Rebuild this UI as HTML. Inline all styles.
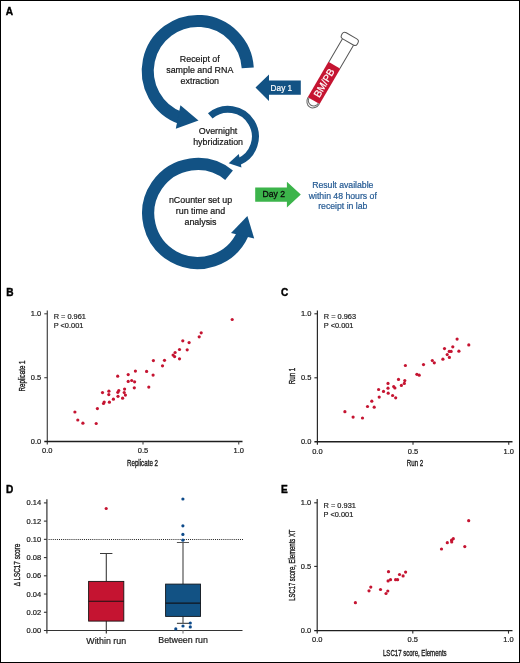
<!DOCTYPE html>
<html><head><meta charset="utf-8"><style>
html,body{margin:0;padding:0;background:#fff;}
svg{display:block;font-family:"Liberation Sans", sans-serif;will-change:transform;}
</style></head><body>
<svg width="520" height="663" viewBox="0 0 520 663">
<rect x="0" y="0" width="520" height="663" fill="#fff"/>
<rect x="0.5" y="0.5" width="519" height="662" fill="none" stroke="#000" stroke-width="1"/>
<path d="M247.75 67.77A50.05 50.05 0 1 0 180.68 118.03" fill="none" stroke="#125284" stroke-width="12.1"/>
<polygon points="180.4,105.3 198.5,120.5 175.8,128.8" fill="#125284"/>
<path d="M210.26 115.93A27.3 27.3 0 1 1 238.33 161.91" fill="none" stroke="#125284" stroke-width="7"/>
<polygon points="238.8,154.1 228.7,163.2 241.5,167.6" fill="#125284"/>
<path d="M229.05 175.19A49.5 49.5 0 1 0 242.92 233.63" fill="none" stroke="#125284" stroke-width="12.2"/>
<polygon points="231,233.1 247.4,216 254.2,238.5" fill="#125284"/>
<text x="199.8" y="62.2" font-size="8.9" fill="#151515" stroke="#151515" stroke-width="0.2" text-anchor="middle" >Receipt of</text>
<text x="199.8" y="73.0" font-size="8.9" fill="#151515" stroke="#151515" stroke-width="0.2" text-anchor="middle" >sample and RNA</text>
<text x="199.8" y="83.8" font-size="8.9" fill="#151515" stroke="#151515" stroke-width="0.2" text-anchor="middle" >extraction</text>
<text x="218.1" y="133.8" font-size="8.9" fill="#151515" stroke="#151515" stroke-width="0.2" text-anchor="middle" >Overnight</text>
<text x="218.1" y="144.8" font-size="8.9" fill="#151515" stroke="#151515" stroke-width="0.2" text-anchor="middle" >hybridization</text>
<text x="200.5" y="203.1" font-size="8.9" fill="#151515" stroke="#151515" stroke-width="0.2" text-anchor="middle" >nCounter set up</text>
<text x="200.5" y="213.8" font-size="8.9" fill="#151515" stroke="#151515" stroke-width="0.2" text-anchor="middle" >run time and</text>
<text x="200.5" y="224.6" font-size="8.9" fill="#151515" stroke="#151515" stroke-width="0.2" text-anchor="middle" >analysis</text>
<text x="342.8" y="187.6" font-size="8.7" fill="#245a93" stroke="#245a93" stroke-width="0.2" text-anchor="middle" >Result available</text>
<text x="342.8" y="198.6" font-size="8.7" fill="#245a93" stroke="#245a93" stroke-width="0.2" text-anchor="middle" >within 48 hours of</text>
<text x="342.8" y="209.4" font-size="8.7" fill="#245a93" stroke="#245a93" stroke-width="0.2" text-anchor="middle" >receipt in lab</text>
<polygon points="255.5,87.5 269,74.6 269,80.6 300.8,80.6 300.8,94.8 269,94.8 269,100.9" fill="#125284"/>
<text x="270.6" y="91.0" font-size="9.2" fill="#fff" stroke="#fff" stroke-width="0.2" text-anchor="start" textLength="21.6" lengthAdjust="spacingAndGlyphs">Day 1</text>
<polygon points="255.2,187.5 286.9,187.5 286.9,181.7 300.8,194.6 286.9,207.5 286.9,201.8 255.2,201.8" fill="#3cb44b"/>
<text x="262.4" y="197.2" font-size="9.3" fill="#0a0a0a" stroke="#0a0a0a" stroke-width="0.3" text-anchor="start" textLength="22.6" lengthAdjust="spacingAndGlyphs">Day 2</text>
<g transform="translate(348.0 41.9) rotate(30.3)">
<rect x="-6.9" y="27" width="13.8" height="41" fill="#c51431"/>
<path d="M-6.4 0V27M6.4 0V27" stroke="#555" stroke-width="1" fill="none"/>
<rect x="-9.1" y="-7" width="18.2" height="7" rx="3" fill="#fff" stroke="#555" stroke-width="1"/>
<path d="M-6.5 68A6.5 7.6 0 0 0 6.5 68" stroke="#666" stroke-width="1" fill="none"/>
<path d="M-5.4 68A5.4 5.4 0 0 0 5.4 68" stroke="#666" stroke-width="1" fill="none"/>
<text x="0" y="47.5" transform="rotate(-90 0 47.5)" font-size="10.1" fill="#fff" stroke="#fff" stroke-width="0.2" text-anchor="middle" dominant-baseline="central">BM/PB</text>
</g>
<path d="M47.3 310.6V444.5" stroke="#444" stroke-width="1.2" fill="none"/>
<path d="M44.3 441.5H242.5" stroke="#1e1e1e" stroke-width="1.35" fill="none"/>
<path d="M44.3 377.7H47.3" stroke="#444" stroke-width="1.1"/>
<path d="M44.3 313.8H47.3" stroke="#444" stroke-width="1.1"/>
<path d="M143 441.5V444.5" stroke="#444" stroke-width="1.1"/>
<path d="M238.75 441.5V444.5" stroke="#444" stroke-width="1.1"/>
<text x="41.3" y="444.1" font-size="7.5" fill="#1a1a1a" stroke="#1a1a1a" stroke-width="0.2" text-anchor="end" >0.0</text>
<text x="41.3" y="380.3" font-size="7.5" fill="#1a1a1a" stroke="#1a1a1a" stroke-width="0.2" text-anchor="end" >0.5</text>
<text x="41.3" y="316.40000000000003" font-size="7.5" fill="#1a1a1a" stroke="#1a1a1a" stroke-width="0.2" text-anchor="end" >1.0</text>
<text x="47.3" y="453.3" font-size="7.5" fill="#1a1a1a" stroke="#1a1a1a" stroke-width="0.2" text-anchor="middle" >0.0</text>
<text x="143" y="453.3" font-size="7.5" fill="#1a1a1a" stroke="#1a1a1a" stroke-width="0.2" text-anchor="middle" >0.5</text>
<text x="238.75" y="453.3" font-size="7.5" fill="#1a1a1a" stroke="#1a1a1a" stroke-width="0.2" text-anchor="middle" >1.0</text>
<text x="53.699999999999996" y="319.2" font-size="7.4" fill="#222" stroke="#222" stroke-width="0.2" text-anchor="start" >R = 0.961</text>
<text x="53.699999999999996" y="328.3" font-size="7.4" fill="#222" stroke="#222" stroke-width="0.2" text-anchor="start" >P &lt;0.001</text>
<text transform="translate(142.5 465.8) scale(0.69 1)" x="0" y="0" font-size="9" fill="#1a1a1a" stroke="#1a1a1a" stroke-width="0.35" text-anchor="middle">Replicate 2</text>
<text transform="translate(25.0 376.0) rotate(-90) scale(0.69 1)" x="0" y="0" font-size="9" fill="#1a1a1a" stroke="#1a1a1a" stroke-width="0.35" text-anchor="middle">Replicate 1</text>
<circle cx="74.9" cy="412" r="1.6" fill="#c51431"/>
<circle cx="77.8" cy="420" r="1.6" fill="#c51431"/>
<circle cx="82.9" cy="423.2" r="1.6" fill="#c51431"/>
<circle cx="96.2" cy="423.5" r="1.6" fill="#c51431"/>
<circle cx="97.4" cy="408.6" r="1.6" fill="#c51431"/>
<circle cx="103.5" cy="403.5" r="1.6" fill="#c51431"/>
<circle cx="104.2" cy="402" r="1.6" fill="#c51431"/>
<circle cx="109.4" cy="402.2" r="1.6" fill="#c51431"/>
<circle cx="113.4" cy="399.2" r="1.6" fill="#c51431"/>
<circle cx="102.5" cy="392.6" r="1.6" fill="#c51431"/>
<circle cx="108.9" cy="391.2" r="1.6" fill="#c51431"/>
<circle cx="108.8" cy="394.6" r="1.6" fill="#c51431"/>
<circle cx="117.7" cy="376.2" r="1.6" fill="#c51431"/>
<circle cx="118" cy="396.3" r="1.6" fill="#c51431"/>
<circle cx="117.8" cy="392.3" r="1.6" fill="#c51431"/>
<circle cx="118.8" cy="390.5" r="1.6" fill="#c51431"/>
<circle cx="122.6" cy="398.2" r="1.6" fill="#c51431"/>
<circle cx="124.2" cy="392.5" r="1.6" fill="#c51431"/>
<circle cx="124.6" cy="389.1" r="1.6" fill="#c51431"/>
<circle cx="125.4" cy="395.1" r="1.6" fill="#c51431"/>
<circle cx="128.2" cy="374.6" r="1.6" fill="#c51431"/>
<circle cx="128.2" cy="381.4" r="1.6" fill="#c51431"/>
<circle cx="131.7" cy="380.5" r="1.6" fill="#c51431"/>
<circle cx="134.6" cy="381.8" r="1.6" fill="#c51431"/>
<circle cx="134.3" cy="387.8" r="1.6" fill="#c51431"/>
<circle cx="135.4" cy="371.1" r="1.6" fill="#c51431"/>
<circle cx="146.6" cy="371.4" r="1.6" fill="#c51431"/>
<circle cx="153.1" cy="375.1" r="1.6" fill="#c51431"/>
<circle cx="148.8" cy="387.1" r="1.6" fill="#c51431"/>
<circle cx="153.4" cy="360.6" r="1.6" fill="#c51431"/>
<circle cx="164.5" cy="360.3" r="1.6" fill="#c51431"/>
<circle cx="162.5" cy="365.8" r="1.6" fill="#c51431"/>
<circle cx="173.1" cy="355.1" r="1.6" fill="#c51431"/>
<circle cx="175.1" cy="352.5" r="1.6" fill="#c51431"/>
<circle cx="174.6" cy="356.6" r="1.6" fill="#c51431"/>
<circle cx="179.5" cy="349.5" r="1.6" fill="#c51431"/>
<circle cx="179.5" cy="358.8" r="1.6" fill="#c51431"/>
<circle cx="182.8" cy="340.8" r="1.6" fill="#c51431"/>
<circle cx="189.1" cy="342.6" r="1.6" fill="#c51431"/>
<circle cx="187.2" cy="349.8" r="1.6" fill="#c51431"/>
<circle cx="201.2" cy="332.8" r="1.6" fill="#c51431"/>
<circle cx="199.2" cy="336.8" r="1.6" fill="#c51431"/>
<circle cx="232.2" cy="319.5" r="1.6" fill="#c51431"/>
<path d="M317.4 310.5V444.7" stroke="#2a2a2a" stroke-width="1.2" fill="none"/>
<path d="M314.4 441.7H512.5" stroke="#1e1e1e" stroke-width="1.35" fill="none"/>
<path d="M314.4 377.8H317.4" stroke="#2a2a2a" stroke-width="1.1"/>
<path d="M314.4 313.8H317.4" stroke="#2a2a2a" stroke-width="1.1"/>
<path d="M413 441.7V444.7" stroke="#2a2a2a" stroke-width="1.1"/>
<path d="M508.75 441.7V444.7" stroke="#2a2a2a" stroke-width="1.1"/>
<text x="311.4" y="444.3" font-size="7.5" fill="#1a1a1a" stroke="#1a1a1a" stroke-width="0.2" text-anchor="end" >0.0</text>
<text x="311.4" y="380.40000000000003" font-size="7.5" fill="#1a1a1a" stroke="#1a1a1a" stroke-width="0.2" text-anchor="end" >0.5</text>
<text x="311.4" y="316.40000000000003" font-size="7.5" fill="#1a1a1a" stroke="#1a1a1a" stroke-width="0.2" text-anchor="end" >1.0</text>
<text x="317.4" y="453.5" font-size="7.5" fill="#1a1a1a" stroke="#1a1a1a" stroke-width="0.2" text-anchor="middle" >0.0</text>
<text x="413" y="453.5" font-size="7.5" fill="#1a1a1a" stroke="#1a1a1a" stroke-width="0.2" text-anchor="middle" >0.5</text>
<text x="508.75" y="453.5" font-size="7.5" fill="#1a1a1a" stroke="#1a1a1a" stroke-width="0.2" text-anchor="middle" >1.0</text>
<text x="323.79999999999995" y="319.2" font-size="7.4" fill="#222" stroke="#222" stroke-width="0.2" text-anchor="start" >R = 0.963</text>
<text x="323.79999999999995" y="328.3" font-size="7.4" fill="#222" stroke="#222" stroke-width="0.2" text-anchor="start" >P &lt;0.001</text>
<text transform="translate(415 465.8) scale(0.69 1)" x="0" y="0" font-size="9" fill="#1a1a1a" stroke="#1a1a1a" stroke-width="0.35" text-anchor="middle">Run 2</text>
<text transform="translate(295.0 376.0) rotate(-90) scale(0.69 1)" x="0" y="0" font-size="9" fill="#1a1a1a" stroke="#1a1a1a" stroke-width="0.35" text-anchor="middle">Run 1</text>
<circle cx="344.9" cy="411.7" r="1.6" fill="#c51431"/>
<circle cx="353.1" cy="417.1" r="1.6" fill="#c51431"/>
<circle cx="362.5" cy="418" r="1.6" fill="#c51431"/>
<circle cx="367.5" cy="406.5" r="1.6" fill="#c51431"/>
<circle cx="371.8" cy="401.2" r="1.6" fill="#c51431"/>
<circle cx="374.2" cy="407.2" r="1.6" fill="#c51431"/>
<circle cx="379.2" cy="397.1" r="1.6" fill="#c51431"/>
<circle cx="378.6" cy="389.5" r="1.6" fill="#c51431"/>
<circle cx="383.5" cy="391.4" r="1.6" fill="#c51431"/>
<circle cx="388" cy="383.4" r="1.6" fill="#c51431"/>
<circle cx="388" cy="388.2" r="1.6" fill="#c51431"/>
<circle cx="388.2" cy="393.2" r="1.6" fill="#c51431"/>
<circle cx="392.6" cy="395.5" r="1.6" fill="#c51431"/>
<circle cx="393.7" cy="386.6" r="1.6" fill="#c51431"/>
<circle cx="394.9" cy="388" r="1.6" fill="#c51431"/>
<circle cx="395.7" cy="397.8" r="1.6" fill="#c51431"/>
<circle cx="398.5" cy="379.4" r="1.6" fill="#c51431"/>
<circle cx="401.4" cy="385.4" r="1.6" fill="#c51431"/>
<circle cx="404.8" cy="380.6" r="1.6" fill="#c51431"/>
<circle cx="404.3" cy="383.4" r="1.6" fill="#c51431"/>
<circle cx="405.4" cy="365.5" r="1.6" fill="#c51431"/>
<circle cx="416.9" cy="374.3" r="1.6" fill="#c51431"/>
<circle cx="419.2" cy="375.2" r="1.6" fill="#c51431"/>
<circle cx="423.5" cy="364.6" r="1.6" fill="#c51431"/>
<circle cx="432.3" cy="360.5" r="1.6" fill="#c51431"/>
<circle cx="434.3" cy="362.8" r="1.6" fill="#c51431"/>
<circle cx="442.9" cy="359.2" r="1.6" fill="#c51431"/>
<circle cx="447.2" cy="354.6" r="1.6" fill="#c51431"/>
<circle cx="449.4" cy="357.4" r="1.6" fill="#c51431"/>
<circle cx="444.5" cy="348.6" r="1.6" fill="#c51431"/>
<circle cx="449.2" cy="351.4" r="1.6" fill="#c51431"/>
<circle cx="451.1" cy="351.4" r="1.6" fill="#c51431"/>
<circle cx="452.8" cy="346.8" r="1.6" fill="#c51431"/>
<circle cx="457.1" cy="339.1" r="1.6" fill="#c51431"/>
<circle cx="458.9" cy="351.2" r="1.6" fill="#c51431"/>
<circle cx="468.8" cy="344.9" r="1.6" fill="#c51431"/>
<path d="M317.2 499V633.6" stroke="#2a2a2a" stroke-width="1.2" fill="none"/>
<path d="M314.2 630.6H512.5" stroke="#1e1e1e" stroke-width="1.35" fill="none"/>
<path d="M314.2 566.4H317.2" stroke="#2a2a2a" stroke-width="1.1"/>
<path d="M314.2 502.8H317.2" stroke="#2a2a2a" stroke-width="1.1"/>
<path d="M412.8 630.6V633.6" stroke="#2a2a2a" stroke-width="1.1"/>
<path d="M508.5 630.6V633.6" stroke="#2a2a2a" stroke-width="1.1"/>
<text x="311.2" y="633.2" font-size="7.5" fill="#1a1a1a" stroke="#1a1a1a" stroke-width="0.2" text-anchor="end" >0.0</text>
<text x="311.2" y="569.0" font-size="7.5" fill="#1a1a1a" stroke="#1a1a1a" stroke-width="0.2" text-anchor="end" >0.5</text>
<text x="311.2" y="505.40000000000003" font-size="7.5" fill="#1a1a1a" stroke="#1a1a1a" stroke-width="0.2" text-anchor="end" >1.0</text>
<text x="317.2" y="642.4" font-size="7.5" fill="#1a1a1a" stroke="#1a1a1a" stroke-width="0.2" text-anchor="middle" >0.0</text>
<text x="412.8" y="642.4" font-size="7.5" fill="#1a1a1a" stroke="#1a1a1a" stroke-width="0.2" text-anchor="middle" >0.5</text>
<text x="508.5" y="642.4" font-size="7.5" fill="#1a1a1a" stroke="#1a1a1a" stroke-width="0.2" text-anchor="middle" >1.0</text>
<text x="323.59999999999997" y="508.2" font-size="7.4" fill="#222" stroke="#222" stroke-width="0.2" text-anchor="start" >R = 0.931</text>
<text x="323.59999999999997" y="517.3" font-size="7.4" fill="#222" stroke="#222" stroke-width="0.2" text-anchor="start" >P &lt;0.001</text>
<text transform="translate(414.8 655.8) scale(0.675 1)" x="0" y="0" font-size="9" fill="#1a1a1a" stroke="#1a1a1a" stroke-width="0.35" text-anchor="middle">LSC17 score, Elements</text>
<text transform="translate(295.0 565.2) rotate(-90) scale(0.657 1)" x="0" y="0" font-size="9" fill="#1a1a1a" stroke="#1a1a1a" stroke-width="0.35" text-anchor="middle">LSC17 score, Elements XT</text>
<circle cx="355.4" cy="602.7" r="1.6" fill="#c51431"/>
<circle cx="369" cy="590.8" r="1.6" fill="#c51431"/>
<circle cx="370.8" cy="587.1" r="1.6" fill="#c51431"/>
<circle cx="380.5" cy="589.5" r="1.6" fill="#c51431"/>
<circle cx="386" cy="593.5" r="1.6" fill="#c51431"/>
<circle cx="387.8" cy="591" r="1.6" fill="#c51431"/>
<circle cx="388.5" cy="571.7" r="1.6" fill="#c51431"/>
<circle cx="388.1" cy="580.9" r="1.6" fill="#c51431"/>
<circle cx="390.5" cy="579.7" r="1.6" fill="#c51431"/>
<circle cx="395.6" cy="579.7" r="1.6" fill="#c51431"/>
<circle cx="397.6" cy="579.7" r="1.6" fill="#c51431"/>
<circle cx="399.5" cy="574.5" r="1.6" fill="#c51431"/>
<circle cx="403.1" cy="575.9" r="1.6" fill="#c51431"/>
<circle cx="405.6" cy="572.1" r="1.6" fill="#c51431"/>
<circle cx="468.7" cy="520.7" r="1.6" fill="#c51431"/>
<circle cx="441.5" cy="549" r="1.6" fill="#c51431"/>
<circle cx="447.3" cy="542.7" r="1.6" fill="#c51431"/>
<circle cx="451.6" cy="540.2" r="1.6" fill="#c51431"/>
<circle cx="453.3" cy="538.7" r="1.6" fill="#c51431"/>
<circle cx="451.7" cy="542" r="1.6" fill="#c51431"/>
<circle cx="464.8" cy="546.6" r="1.6" fill="#c51431"/>
<path d="M46.9 499.2V633.5M43.9 630.5H242.5" stroke="#333" stroke-width="1.2" fill="none"/>
<text x="41.1" y="633.1" font-size="7.5" fill="#1a1a1a" stroke="#1a1a1a" stroke-width="0.2" text-anchor="end" >0.00</text>
<path d="M43.9 612.27H46.9" stroke="#333" stroke-width="1.1"/>
<text x="41.1" y="614.87" font-size="7.5" fill="#1a1a1a" stroke="#1a1a1a" stroke-width="0.2" text-anchor="end" >0.02</text>
<path d="M43.9 594.04H46.9" stroke="#333" stroke-width="1.1"/>
<text x="41.1" y="596.64" font-size="7.5" fill="#1a1a1a" stroke="#1a1a1a" stroke-width="0.2" text-anchor="end" >0.04</text>
<path d="M43.9 575.81H46.9" stroke="#333" stroke-width="1.1"/>
<text x="41.1" y="578.41" font-size="7.5" fill="#1a1a1a" stroke="#1a1a1a" stroke-width="0.2" text-anchor="end" >0.06</text>
<path d="M43.9 557.58H46.9" stroke="#333" stroke-width="1.1"/>
<text x="41.1" y="560.1800000000001" font-size="7.5" fill="#1a1a1a" stroke="#1a1a1a" stroke-width="0.2" text-anchor="end" >0.08</text>
<path d="M43.9 539.35H46.9" stroke="#333" stroke-width="1.1"/>
<text x="41.1" y="541.95" font-size="7.5" fill="#1a1a1a" stroke="#1a1a1a" stroke-width="0.2" text-anchor="end" >0.10</text>
<path d="M43.9 521.12H46.9" stroke="#333" stroke-width="1.1"/>
<text x="41.1" y="523.72" font-size="7.5" fill="#1a1a1a" stroke="#1a1a1a" stroke-width="0.2" text-anchor="end" >0.12</text>
<path d="M43.9 502.89H46.9" stroke="#333" stroke-width="1.1"/>
<text x="41.1" y="505.49" font-size="7.5" fill="#1a1a1a" stroke="#1a1a1a" stroke-width="0.2" text-anchor="end" >0.14</text>
<path d="M48.6 539.5H243" stroke="#222" stroke-width="1" stroke-dasharray="1 1.08"/>
<path d="M106.3 630.5V633.5" stroke="#222" stroke-width="1.1"/>
<path d="M183 630.5V633.5" stroke="#777" stroke-width="1.1"/>
<path d="M106.3 553.5V581.2M106.3 621.1V630.5M100 553.5H112.4" stroke="#3a3a3a" stroke-width="1.1" fill="none"/>
<rect x="88.6" y="581.4" width="35.2" height="39.7" fill="#c51431" stroke="#1a1212" stroke-width="0.9"/>
<path d="M88.6 601.2H123.8" stroke="#1a1212" stroke-width="1.05"/>
<circle cx="106.2" cy="508.5" r="1.6" fill="#c51431"/>
<path d="M183 542.5V584M183 616.5V623.4M176.9 542.5H189M176.9 623.4H190" stroke="#555" stroke-width="1.2" fill="none"/>
<rect x="165.6" y="584.1" width="34.9" height="32.3" fill="#125284" stroke="#10151c" stroke-width="0.9"/>
<path d="M165.6 603.1H200.5" stroke="#10151c" stroke-width="1.2"/>
<circle cx="182.9" cy="499" r="1.6" fill="#0d4a8a"/>
<circle cx="182.9" cy="525.8" r="1.6" fill="#0d4a8a"/>
<circle cx="182.9" cy="534.4" r="1.6" fill="#0d4a8a"/>
<circle cx="182.9" cy="540.2" r="1.6" fill="#0d4a8a"/>
<circle cx="175.8" cy="628.9" r="1.6" fill="#0d4a8a"/>
<circle cx="183" cy="626" r="1.6" fill="#0d4a8a"/>
<circle cx="190.3" cy="623" r="1.6" fill="#0d4a8a"/>
<circle cx="190.3" cy="626.9" r="1.6" fill="#0d4a8a"/>
<text x="106.2" y="643.5" font-size="8.85" fill="#1a1a1a" stroke="#1a1a1a" stroke-width="0.2" text-anchor="middle" >Within run</text>
<text x="183.1" y="643.3" font-size="8.85" fill="#1a1a1a" stroke="#1a1a1a" stroke-width="0.2" text-anchor="middle" >Between run</text>
<text transform="translate(20.0 565.0) rotate(-90) scale(0.76 1)" x="0" y="0" font-size="8.4" fill="#1a1a1a" stroke="#1a1a1a" stroke-width="0.35" text-anchor="middle">&#916; LSC17 score</text>
<text x="5.8" y="14.6" font-size="10.1" fill="#000" stroke="#000" stroke-width="0.4" text-anchor="start" font-weight="bold">A</text>
<text x="6.2" y="296" font-size="10.1" fill="#000" stroke="#000" stroke-width="0.4" text-anchor="start" font-weight="bold">B</text>
<text x="281.1" y="296.3" font-size="10.1" fill="#000" stroke="#000" stroke-width="0.4" text-anchor="start" font-weight="bold">C</text>
<text x="6.1" y="492.6" font-size="10.1" fill="#000" stroke="#000" stroke-width="0.4" text-anchor="start" font-weight="bold">D</text>
<text x="281.1" y="492.6" font-size="10.1" fill="#000" stroke="#000" stroke-width="0.4" text-anchor="start" font-weight="bold">E</text>
</svg>
</body></html>
